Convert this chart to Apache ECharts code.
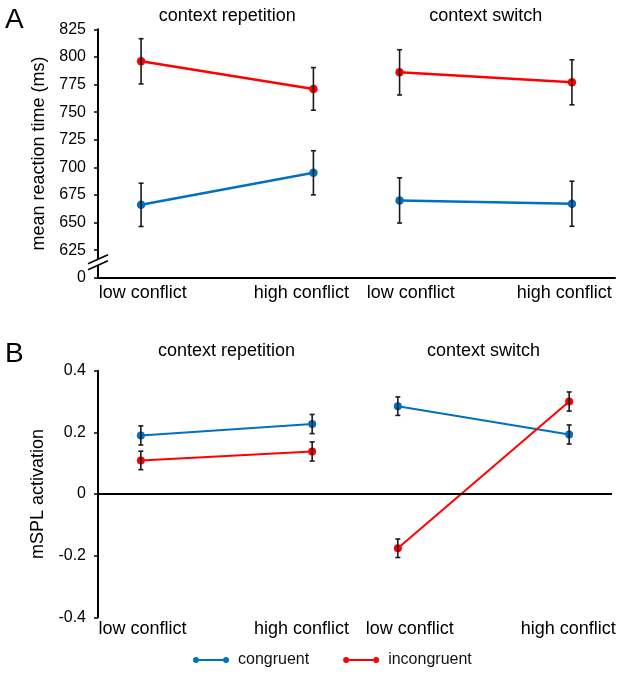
<!DOCTYPE html>
<html><head><meta charset="utf-8">
<script src="https://cdn.jsdelivr.net/npm/echarts@6/dist/echarts.min.js"></script>
<style>html,body{margin:0;padding:0;background:#fff}#c{width:624px;height:675px}</style>
</head><body><div id="c"></div>
<script>
// ---- data ----
const groups = ['context repetition', 'context switch'];
const conditions = ['low conflict', 'high conflict'];
const seriesNames = ['congruent', 'incongruent'];
// order: repetition-low, repetition-high, switch-low, switch-high
const rtCongruent = [666, 695, 670, 667];
const rtCongruentErr = [19.6, 20.0, 20.5, 20.4];
const rtIncongruent = [796, 771, 786, 777];
const rtIncongruentErr = [20.5, 19.3, 20.5, 20.4];
const splCongruent = [0.190, 0.227, 0.285, 0.193];
const splCongruentErr = [0.031, 0.031, 0.030, 0.031];
const splIncongruent = [0.109, 0.138, -0.176, 0.300];
const splIncongruentErr = [0.030, 0.031, 0.030, 0.031];
const rtTickLabels = ['0', '625', '650', '675', '700', '725', '750', '775', '800', '825'];
const splTickLabels = ['-0.4', '-0.2', '0', '0.2', '0.4'];
const rtAxisName = 'mean reaction time (ms)';
const splAxisName = 'mSPL activation';
const panelLetters = ['A', 'B'];

// ---- styles ----
const FONT = 'Liberation Sans, Arial, sans-serif';
const BLUE = '#0070C0';
const RED = '#FF0000';
const colors = [BLUE, RED];
const xOf = (gi, ci) => gi * 3 + ci * 2;
const labelPosA = [0.02, 1.86, 3.13, 4.91];
const labelPosB = [0.02, 1.875, 3.14, 4.99];
const xLabels = groups.flatMap(() => conditions);

const chart = echarts.init(document.getElementById('c'), null, {renderer: 'canvas'});

function errRender(params, api) {
  const x = api.value(0), y = api.value(1), e = api.value(2);
  const t = api.coord([x, y + e]), b = api.coord([x, y - e]);
  const w = 2.5;
  const style = {stroke: '#1a1a1a', lineWidth: 1.6};
  return {type: 'group', children: [
    {type: 'line', shape: {x1: t[0], y1: t[1], x2: b[0], y2: b[1]}, style},
    {type: 'line', shape: {x1: t[0] - w, y1: t[1], x2: t[0] + w, y2: t[1]}, style},
    {type: 'line', shape: {x1: b[0] - w, y1: b[1], x2: b[0] + w, y2: b[1]}, style}
  ]};
}

function panelSeries(idx, sets, lw, sym) {
  const out = [];
  sets.forEach(([vals, errs], si) => {
    const color = colors[si];
    groups.forEach((g, gi) => {
      out.push({
        type: 'line', name: seriesNames[si], xAxisIndex: idx, yAxisIndex: idx,
        data: conditions.map((c, ci) => [xOf(gi, ci), vals[gi * 2 + ci]]),
        symbol: 'circle', symbolSize: sym, showSymbol: true,
        lineStyle: {width: lw, color}, itemStyle: {color}, color,
        z: 3, silent: true
      });
    });
    out.push({
      type: 'custom', xAxisIndex: idx, yAxisIndex: idx, z: 4, silent: true,
      renderItem: errRender, encode: {x: 0, y: 1},
      data: vals.map((v, k) => [xOf(Math.floor(k / 2), k % 2), v, errs[k]])
    });
  });
  return out;
}

const seriesA = panelSeries(0, [[rtCongruent, rtCongruentErr], [rtIncongruent, rtIncongruentErr]], 2.5, 8.5);
const seriesB = panelSeries(1, [[splCongruent, splCongruentErr], [splIncongruent, splIncongruentErr]], 2, 8);
seriesB.push({
  type: 'line', xAxisIndex: 1, yAxisIndex: 1, data: [], silent: true,
  markLine: {symbol: 'none', silent: true, label: {show: false},
    lineStyle: {color: '#000', width: 2, type: 'solid'}, data: [{yAxis: 0}]}
});

const xAxisCommon = {
  type: 'value', min: -0.5, max: 5.5, splitLine: {show: false},
  axisTick: {show: false},
};

const legendIcon = 'path://M0,3a3,3 0 1,0 6,0a3,3 0 1,0 -6,0Z M6,2H30V4H6Z M30,3a3,3 0 1,0 6,0a3,3 0 1,0 -6,0Z';

chart.setOption({
  animation: false,
  backgroundColor: '#fff',
  textStyle: {fontFamily: FONT},
  grid: [
    {left: 98, top: 29.3, width: 517, height: 248.4},
    {left: 98, top: 370.7, width: 514, height: 246.6}
  ],
  legend: {
    data: seriesNames, left: 193, top: 652, padding: 0, itemWidth: 36, itemHeight: 6, itemGap: 34,
    icon: legendIcon, selectedMode: false,
    textStyle: {fontFamily: FONT, fontSize: 16, color: '#111', padding: [0, 0, 0, 4]}
  },
  xAxis: [
    Object.assign({}, xAxisCommon, {
      gridIndex: 0, position: 'bottom',
      axisLine: {show: true, onZero: false, lineStyle: {color: '#000', width: 2}},
      axisLabel: {customValues: labelPosA, margin: 6, fontFamily: FONT, fontSize: 18, color: '#000',
        formatter: v => xLabels[labelPosA.indexOf(v)]}
    }),
    Object.assign({}, xAxisCommon, {
      gridIndex: 1, position: 'bottom',
      axisLine: {show: false, onZero: false},
      axisLabel: {customValues: labelPosB, margin: 3, fontFamily: FONT, fontSize: 18, color: '#000',
        formatter: v => xLabels[labelPosB.indexOf(v)]}
    })
  ],
  yAxis: [
    {
      type: 'value', gridIndex: 0, min: 600, max: 825, interval: 25, position: 'left',
      splitLine: {show: false},
      axisLine: {show: true, onZero: false, lineStyle: {color: '#000', width: 2}},
      axisTick: {show: true, inside: false, length: 4, lineStyle: {color: '#000', width: 1.5}},
      axisLabel: {margin: 12, fontFamily: FONT, fontSize: 16, color: '#000',
        formatter: v => rtTickLabels[Math.round((v - 600) / 25)]},
      name: rtAxisName, nameLocation: 'middle', nameGap: 49,
      nameTextStyle: {fontFamily: FONT, fontSize: 18, color: '#000'}
    },
    {
      type: 'value', gridIndex: 1, min: -0.4, max: 0.4, interval: 0.2, position: 'left',
      splitLine: {show: false},
      axisLine: {show: true, onZero: false, lineStyle: {color: '#000', width: 2}},
      axisTick: {show: true, inside: false, length: 4, lineStyle: {color: '#000', width: 1.5}},
      axisLabel: {margin: 12, fontFamily: FONT, fontSize: 16, color: '#000',
        formatter: v => splTickLabels[Math.round((v + 0.4) / 0.2)]},
      name: splAxisName, nameLocation: 'middle', nameGap: 48,
      nameTextStyle: {fontFamily: FONT, fontSize: 18, color: '#000'}
    }
  ],
  series: seriesA.concat(seriesB)
});

// ---- decorations placed through the axes ----
const titleY = [16, 351.5];
const letterY = [20.3, 354.5];
const graphics = [];
[0, 1].forEach(p => {
  graphics.push({type: 'text', x: 5, y: letterY[p], silent: true,
    style: {text: panelLetters[p], font: '28px ' + FONT, fill: '#000', textAlign: 'left', textVerticalAlign: 'middle'}});
  groups.forEach((g, gi) => {
    const cx = chart.convertToPixel({xAxisIndex: p}, (xOf(gi, 0) + xOf(gi, 1)) / 2);
    graphics.push({type: 'text', x: cx, y: titleY[p], silent: true,
      style: {text: g, font: '18px ' + FONT, fill: '#000', textAlign: 'center', textVerticalAlign: 'middle'}});
  });
});
// axis break marker on panel A y-axis
const bx = chart.convertToPixel({xAxisIndex: 0}, -0.5);
const by = chart.convertToPixel({yAxisIndex: 0}, 613.5);
graphics.push({type: 'polygon', silent: true, z: 10,
  shape: {points: [[bx - 10, by + 1], [bx + 10, by - 8], [bx + 10, by - 2], [bx - 10, by + 7]]},
  style: {fill: '#fff'}});
graphics.push({type: 'line', silent: true, z: 11,
  shape: {x1: bx - 10, y1: by + 1, x2: bx + 10, y2: by - 8}, style: {stroke: '#000', lineWidth: 1.6}});
graphics.push({type: 'line', silent: true, z: 11,
  shape: {x1: bx - 10, y1: by + 7, x2: bx + 10, y2: by - 2}, style: {stroke: '#000', lineWidth: 1.6}});
chart.setOption({graphic: graphics});
</script>
</body></html>
